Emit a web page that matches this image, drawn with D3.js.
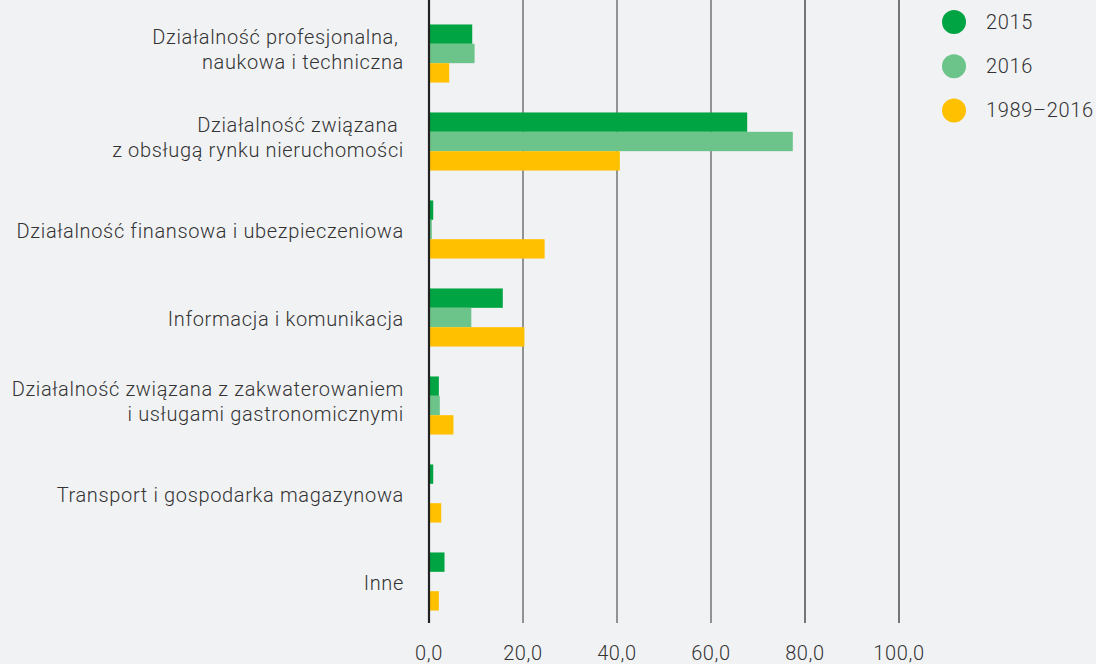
<!DOCTYPE html>
<html>
<head>
<meta charset="utf-8">
<script src="https://cdn.jsdelivr.net/npm/d3@7"></script>
<style>
  body { margin: 0; background: #f1f2f4; }
  svg { display: block; font-family: Roboto, "Noto Sans", sans-serif; }
  .lbl { font-size: 20px; font-weight: 300; letter-spacing: 0.65px; fill: #333; white-space: pre; }
</style>
</head>
<body>
<svg width="1096" height="664"></svg>
<script>
var categories = [
  ["Działalność profesjonalna, ", "naukowa i techniczna"],
  ["Działalność związana ", "z obsługą rynku nieruchomości"],
  ["Działalność finansowa i ubezpieczeniowa"],
  ["Informacja i komunikacja"],
  ["Działalność związana z zakwaterowaniem", "i usługami gastronomicznymi"],
  ["Transport i gospodarka magazynowa"],
  ["Inne"]
];
var seriesNames = ["2015", "2016", "1989–2016"];
var v2015 = [9.2, 67.7, 0.9, 15.7, 2.1, 0.9, 3.3];
var v2016 = [9.7, 77.4, 0.6, 9.0, 2.3, 0.1, 0.2];
var vAll = [4.3, 40.6, 24.6, 20.3, 5.2, 2.6, 2.1];
var xTicks = [0, 20, 40, 60, 80, 100];
var colors = ["#00a443", "#6cc48a", "#ffc000"];

var svg = d3.select("svg");
var series = [v2015, v2016, vAll];

var x = d3.scaleLinear().domain([0, 100]).range([429, 899]);
var y = d3.scaleBand().domain(d3.range(categories.length))
    .range([9.5, 625.5]).paddingInner(0.34).paddingOuter(0.17);
var ySub = d3.scaleBand().domain(d3.range(series.length)).range([0, y.bandwidth()]);

// grid lines
svg.append("g").selectAll("line")
  .data(xTicks.slice(1))
  .enter().append("line")
    .attr("x1", function(d){ return x(d); })
    .attr("x2", function(d){ return x(d); })
    .attr("y1", 0).attr("y2", 623)
    .attr("stroke", function(d){ return d >= 80 ? "#555" : "#7a7a7a"; })
    .attr("stroke-width", 1.6);

// bars
var groups = svg.append("g").selectAll("g")
  .data(categories)
  .enter().append("g")
    .attr("transform", function(d, i){ return "translate(0," + y(i) + ")"; });

groups.selectAll("rect")
  .data(function(d, i){ return series.map(function(s){ return s[i]; }); })
  .enter().append("rect")
    .attr("x", x(0))
    .attr("y", function(d, j){ return ySub(j); })
    .attr("width", function(d){ return x(d) - x(0); })
    .attr("height", ySub.bandwidth())
    .attr("fill", function(d, j){ return colors[j]; });

// category labels
groups.each(function(lines){
  var g = d3.select(this);
  var mid = y.bandwidth() / 2;
  var lh = 25.7;
  var start = lines.length == 1 ? mid + 8.8 : mid + 3 - lh / 2;
  lines.forEach(function(t, k){
    g.append("text").attr("class", "lbl")
      .attr("x", 404).attr("y", start + k * lh)
      .attr("text-anchor", "end")
      .text(t);
  });
});

// zero axis line
svg.append("line")
  .attr("x1", x(0)).attr("x2", x(0))
  .attr("y1", 0).attr("y2", 623)
  .attr("stroke", "#222").attr("stroke-width", 2.2);

// tick labels
var fmt = function(d){ return d.toFixed(1).replace(".", ","); };
svg.append("g").selectAll("text")
  .data(xTicks)
  .enter().append("text").attr("class", "lbl")
    .attr("x", function(d){ return x(d); })
    .attr("y", 660)
    .attr("text-anchor", "middle")
    .text(fmt);

// legend
var leg = svg.append("g").selectAll("g")
  .data(seriesNames)
  .enter().append("g")
    .attr("transform", function(d, i){ return "translate(954," + (22 + i * 44.3) + ")"; });
leg.append("circle").attr("r", 12).attr("fill", function(d, i){ return colors[i]; });
leg.append("text").attr("class", "lbl")
  .attr("x", 32).attr("y", 6.5).text(function(d){ return d; });
</script>
</body>
</html>
